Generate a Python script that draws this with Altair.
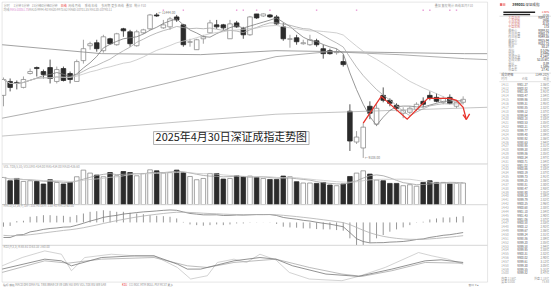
import altair as alt
import pandas as pd

# ---------------- data ----------------
day = list(range(70))
open_px = [10116, 10340, 10324, 10244, 10468, 10564, 10500, 10564, 10340, 10548,
           10468, 10340, 10676, 10916, 10964, 10836, 11028, 10932, 11188, 11140,
           10916, 11124, 11188, 11412, 11204, 11220, 11380, 11252, 10972, 10852,
           11028, 11124, 11252, 11252, 11028, 11284, 11188, 11092, 11428, 11396,
           11412, 11380, 11220, 11020, 11044, 10948, 10932, 10996, 10868, 10836,
           10804, 10660, 9860, 9364, 9268, 9940, 9652, 10116, 10036, 9956,
           9828, 9844, 9892, 10020, 10116, 10084, 10004, 10084, 9940, 10004]
close_px = [10372, 10244, 10308, 10372, 10500, 10548, 10452, 10388, 10532, 10356,
            10372, 10660, 10868, 10948, 10868, 11060, 10948, 11108, 11156, 10948,
            11140, 11172, 11412, 11396, 11252, 11348, 11332, 10932, 10980, 11012,
            11060, 11284, 11220, 11204, 11268, 11220, 11092, 11380, 11364, 11428,
            11380, 11268, 11028, 11028, 10980, 10964, 11012, 10932, 10788, 10788,
            10820, 10612, 9380, 9444, 9604, 9828, 9908, 10036, 9988, 9908,
            9876, 9908, 9972, 9972, 10068, 10020, 10068, 9988, 10004, 10052]
high_px = [10404, 10388, 10356, 10420, 10548, 10580, 10532, 10692, 10580, 10580,
           10500, 10692, 11012, 10980, 11012, 11092, 11044, 11124, 11204, 11172,
           11172, 11188, 11428, 11444, 11332, 11380, 11412, 11268, 11028, 11028,
           11092, 11332, 11332, 11268, 11332, 11316, 11220, 11396, 11428, 11436,
           11428, 11412, 11284, 11092, 11092, 11012, 11092, 11028, 10932, 10868,
           10868, 10772, 9972, 9540, 9668, 10020, 9972, 10244, 10068, 9988,
           9924, 9940, 10004, 10084, 10180, 10148, 10100, 10132, 10036, 10100]
low_px = [9940, 10180, 10212, 10228, 10452, 10420, 10388, 10308, 10308, 10340,
          10308, 10340, 10628, 10852, 10820, 10804, 10932, 10916, 11060, 10900,
          10900, 11108, 11172, 11380, 11188, 11172, 11300, 10900, 10900, 10852,
          10948, 11108, 11188, 11172, 11028, 11204, 11028, 11076, 11348, 11380,
          11364, 11252, 10996, 10884, 10932, 10932, 10916, 10900, 10708, 10772,
          10772, 10580, 9220, 9332, 9108, 9732, 9620, 10004, 9940, 9860,
          9748, 9812, 9860, 9924, 10036, 10004, 9972, 9972, 9908, 9972]
volume = [546, 480, 526, 466, 480, 466, 414, 500, 446, 414,
          446, 560, 694, 634, 594, 560, 646, 580, 666, 646,
          580, 626, 700, 680, 634, 646, 694, 646, 566, 500,
          526, 626, 626, 514, 526, 580, 566, 574, 546, 526,
          506, 506, 574, 560, 460, 434, 434, 426, 446, 394,
          380, 414, 566, 634, 680, 614, 494, 480, 426, 426,
          380, 400, 370, 446, 480, 446, 446, 426, 426, 434]
macd_bar = [-43, -35, 13, 17, 57, 63, 73, 73, 67, 67,
            57, 73, 90, 107, 113, 123, 117, 107, 107, 97,
            90, 83, 73, 67, 63, 57, 40, 5, -20, -27,
            -33, -27, -20, -27, -20, -10, -10, -3, 2, 1,
            2, -15, -43, -50, -53, -60, -60, -67, -70, -70,
            -77, -83, -160, -227, -227, -203, -160, -127, -93, -70,
            -50, -27, -3, 7, 30, 40, 50, 50, 57, 63]
dif = [-151.5, -151.9, -126.3, -122.2, -95.1, -84.2, -70.1, -61.0, -55.6, -47.2,
       -45.1, -28.0, -8.2, 13.7, 30.8, 51.2, 62.8, 71.2, 84.6, 91.7,
       99.5, 106.4, 110.5, 115.9, 121.8, 125.9, 122.4, 105.5, 90.5, 83.6,
       76.5, 76.1, 77.1, 70.2, 71.2, 75.0, 73.7, 76.8, 79.6, 79.2,
       80.0, 69.6, 50.2, 40.5, 32.4, 21.4, 13.9, 2.0, -8.2, -17.0,
       -30.1, -43.5, -102.0, -163.9, -192.3, -205.7, -204.2, -203.6, -198.2, -195.5,
       -191.7, -183.6, -172.0, -166.1, -150.9, -140.9, -129.6, -123.4, -112.8, -101.9]
dea = [-130.0, -134.4, -132.8, -130.7, -123.6, -115.7, -106.6, -97.5, -89.1, -80.7,
       -73.6, -64.5, -53.2, -39.8, -25.7, -10.3, 4.3, 17.7, 31.1, 43.2,
       54.5, 64.9, 74.0, 82.4, 90.3, 97.4, 102.4, 103.0, 100.5, 97.1,
       93.0, 89.6, 87.1, 83.7, 81.2, 80.0, 78.7, 78.3, 78.6, 78.7,
       79.0, 77.1, 71.7, 65.5, 58.9, 51.4, 43.9, 35.5, 26.8, 18.0,
       8.4, -2.0, -22.0, -50.4, -78.8, -104.2, -124.2, -140.1, -151.7, -160.5,
       -166.7, -170.1, -170.5, -169.6, -165.9, -160.9, -154.6, -148.4, -141.3, -133.4]

# long moving averages, read as anchor points (bar index, value)
ma60_i = [-0.2, 12.9, 24.4, 40.9, 48.9, 59.4, 69.2, 72.6]
ma60_v = [9748, 10020, 10308, 10740, 10820, 10772, 10708, 10692]
ma120_i = [-0.2, 14.7, 29.6, 40.9, 69.2, 72.6]
ma120_v = [10932, 10788, 10772, 10836, 10788, 10788]
ma250_i = [-0.2, 40.9, 72.6]
ma250_v = [9460, 9812, 9924]

# KDJ anchor points
k_i = [-0.2, 6.2, 8.7, 10.2, 14.7, 19.7, 22.6, 26.1, 27.6, 29.6, 31.6, 34.6, 38.5, 40.9,
       43.4, 48.4, 53.3, 58.3, 63.3, 65.7, 69]
k_v = [43.3, 76.7, 71.1, 54.4, 82.2, 87.8, 87.8, 60, 43.3, 43.3, 54.4, 71.1, 82.2, 76.7,
       54.4, 26.7, 18.9, 43.3, 71.1, 74.4, 65.6]
d_i = [-0.2, 6.2, 9.7, 14.7, 22.6, 27.6, 30.6, 34.6, 40.9, 45.9, 50.8, 53.8, 58.3, 63.3, 69]
d_v = [32.2, 71.1, 63.3, 76.7, 82.2, 54.4, 48.9, 65.6, 76.7, 48.9, 26.7, 18.9, 37.8, 65.6, 63.3]
j_i = [-0.2, 2.8, 6.2, 8.7, 10.2, 12.2, 16.2, 19.7, 22.6, 26.1, 28.1, 30.6, 32.1, 34.6,
       36.5, 38.5, 40.9, 42.9, 45.9, 50.8, 53.3, 57.3, 62.3, 64.3, 66.7, 69]
j_v = [54.4, 82.2, 104.4, 93.3, 37.8, 82.2, 93.3, 87.8, 87.8, 48.9, 10, 21.1, 65.6, 76.7,
       65.6, 93.3, 74.0, 32.2, 10, 4.4, 18.9, 48.9, 98.9, 87.8, 76.7, 60]

# hand-drawn red path and arrowhead (bar index, price)
red_i = [54.0, 56.7, 60.6, 63.7, 67.0, 68.0, 69.0, 69.48]
red_p = [9668, 10100, 9732, 10068, 10068, 10036, 9924, 9727]
arrow_i0 = [69.48, 69.48]
arrow_p0 = [9727, 9727]
arrow_i1 = [68.97, 69.97]
arrow_p1 = [9807, 9817]

event_days = [24, 27, 35, 36, 38, 40, 47, 53, 63, 64, 67, 68]
title_text = "2025年4月30日深证成指走势图"
high_label = "← 11444.00"
low_label = "← 9108.00"

tabs = ["分时", "1分钟", "5分钟", "15分钟", "30分钟", "60分钟", "日线", "周线", "月线",
        "季线", "年线", "多周期", "更多", "画线", "叠加", "统计", "F10"]

quote_labels = ["大盘涨跌", "上涨家数", "下跌家数", "平盘家数", "最新价", "今日开盘", "昨日收盘",
                "最高价", "最低价", "涨跌", "涨幅", "振幅", "总成交量", "总成交额", "量比",
                "换手率", "市盈率"]
quote_values = ["9899.82", "1956", "3115", "173", "9899.82", "9860.17", "9849.55",
                "9925.94", "9832.73", "50.27", "0.51%", "0.94%", "4.34亿", "5218.6亿",
                "0.89", "1.56%", "27.41"]
tick_times = ["14:11", "14:12", "14:13", "14:14", "14:15", "14:16", "14:17", "14:18", "14:19", "14:20",
              "14:21", "14:22", "14:23", "14:24", "14:25", "14:26", "14:27", "14:28", "14:29", "14:30",
              "14:31", "14:32", "14:33", "14:34", "14:35", "14:36", "14:37", "14:38", "14:39", "14:40",
              "14:41", "14:42", "14:43", "14:44", "14:45", "14:46", "14:47", "14:48", "14:49", "14:50",
              "14:51", "14:52", "14:53", "14:54", "14:55", "14:56", "14:57", "14:58", "14:59", "15:00"]
tick_prices = ["9901.27", "9900.82", "9901.05", "9900.47", "9899.96", "9899.31", "9898.85", "9899.12",
               "9899.64", "9900.18", "9900.53", "9900.21", "9899.77", "9899.40", "9898.92", "9898.63",
               "9898.95", "9899.38", "9899.86", "9900.34", "9900.71", "9901.02", "9900.66", "9900.19",
               "9899.73", "9899.25", "9898.81", "9898.47", "9898.90", "9899.33", "9899.79", "9900.25",
               "9900.68", "9901.10", "9901.43", "9901.06", "9900.58", "9900.12", "9899.67", "9899.24",
               "9898.86", "9899.20", "9899.58", "9899.95", "9900.31", "9900.02", "9899.61", "9899.30",
               "9899.55", "9899.82"]
tick_vols = ["2.86亿", "2.79亿", "2.91亿", "2.84亿", "2.88亿", "2.95亿", "2.82亿", "2.87亿", "2.90亿", "2.83亿",
             "2.85亿", "2.92亿", "2.80亿", "2.89亿", "2.86亿", "2.94亿", "2.81亿", "2.88亿", "2.85亿", "2.97亿",
             "2.84亿", "2.90亿", "2.83亿", "2.87亿", "2.91亿", "2.86亿", "2.80亿", "2.93亿", "2.85亿", "2.89亿",
             "2.82亿", "2.96亿", "2.88亿", "2.84亿", "2.90亿", "2.87亿", "2.83亿", "2.92亿", "2.86亿", "2.81亿",
             "2.89亿", "2.85亿", "2.94亿", "2.88亿", "2.82亿", "2.90亿", "3.12亿", "3.05亿", "5.31亿", "8.47亿"]

# ---------------- layout / style ----------------
W = 489
AX = 11
H_MAIN, H_VOL, H_MACD, H_KDJ, H_BAR = 163, 41, 41, 37, 7
RP_W = 52
X_DOMAIN = [-0.2236, 72.65]
PRICE_DOMAIN = [9012, 11620]
VOL_DOMAIN = [0, 820]
MACD_DOMAIN = [-230, 180]
KDJ_DOMAIN = [0, 123.3]
HALF = 0.345
FONT = "Noto Sans CJK SC"
UP_FILL, DOWN_FILL = "#ffffff", "#2b2b2b"
UP_LINE, DOWN_LINE = "#8c8c8c", "#2b2b2b"
UP_TEST = "datum.close >= datum.open"

cdf = pd.DataFrame({"i": day, "open": open_px, "close": close_px, "high": high_px,
                    "low": low_px, "vol": volume, "bar": macd_bar, "dif": dif, "dea": dea})

xs = alt.Scale(domain=X_DOMAIN, nice=False, zero=False)
X = alt.X("i:Q", scale=xs, axis=None)


def yaxis(values):
    return alt.Axis(orient="right", values=values, format="d", labelFontSize=3,
                    labelColor="#8a8a8a", labelFont="DejaVu Sans", labelPadding=0.5,
                    tickSize=1, tickColor="#cccccc", tickWidth=0.5, domainColor="#c8c8c8",
                    domainWidth=0.6, grid=True, gridColor="#f1f1f1", gridWidth=0.6,
                    title=None, minExtent=AX, maxExtent=AX)


def note(txt, x, y, color="#9a9a9a", size=3.2, weight="normal", align="left"):
    return alt.Chart(pd.DataFrame({"t": [txt]})).mark_text(
        align=align, baseline="middle", fontSize=size, font=FONT, color=color,
        fontWeight=weight).encode(x=alt.value(x), y=alt.value(y), text="t:N")


def view(stroke="#d4d4d4"):
    return alt.ViewBackground(stroke=stroke, strokeWidth=0.6)


# ---------------- main (price) pane ----------------
ps = alt.Scale(domain=PRICE_DOMAIN, nice=False, zero=False)
price_ticks = [9120, 9280, 9440, 9600, 9760, 9920, 10080, 10240, 10400, 10560,
               10720, 10880, 11040, 11200, 11360, 11520]

wick = alt.Chart(cdf).mark_rule(strokeWidth=0.8, clip=True).encode(
    x=X, y=alt.Y("low:Q", scale=ps, axis=yaxis(price_ticks)), y2="high:Q",
    color=alt.condition(UP_TEST, alt.value(UP_LINE), alt.value(DOWN_LINE)))

body = alt.Chart(cdf).transform_calculate(
    x0=f"datum.i - {HALF}", x1=f"datum.i + {HALF}"
).mark_rect(strokeWidth=0.8, clip=True).encode(
    x=alt.X("x0:Q", scale=xs, axis=None), x2="x1:Q",
    y=alt.Y("open:Q", scale=ps, axis=None), y2="close:Q",
    fill=alt.condition(UP_TEST, alt.value(UP_FILL), alt.value(DOWN_FILL)),
    stroke=alt.condition(UP_TEST, alt.value(UP_LINE), alt.value(DOWN_LINE)))


def ma_line(n, color):
    return alt.Chart(cdf).transform_window(
        m="mean(close)", frame=[-(n - 1), 0], sort=[alt.SortField("i")]
    ).mark_line(color=color, strokeWidth=0.8, clip=True).encode(
        x=X, y=alt.Y("m:Q", scale=ps, axis=None))


def anchor_line(ii, vv, color, scale):
    return alt.Chart(pd.DataFrame({"i": ii, "v": vv})).mark_line(
        color=color, strokeWidth=0.8, clip=True).encode(
        x=X, y=alt.Y("v:Q", scale=scale, axis=None))


long_lines = [anchor_line(ma60_i, ma60_v, "#9a9a9a", ps),
              anchor_line(ma120_i, ma120_v, "#8a8a8a", ps),
              anchor_line(ma250_i, ma250_v, "#b5b5b5", ps)]

events = alt.Chart(pd.DataFrame({"i": event_days})).mark_point(
    shape="square", size=2, filled=True, color="#e58fd0", opacity=0.9).encode(
    x=X, y=alt.value(8.2))

hl_df = pd.DataFrame({"i": [23, 54], "p": [high_px[23], low_px[54]], "t": [high_label, low_label]})
hl = alt.Chart(hl_df).mark_text(align="left", baseline="middle", dx=1.5, fontSize=3.2,
                                font=FONT, color="#777").encode(
    x=X, y=alt.Y("p:Q", scale=ps, axis=None), text="t:N")

box_df = pd.DataFrame({"x0": [22.53], "x1": [45.87], "y0": [9532], "y1": [9324],
                       "xc": [34.2], "yc": [9428], "t": [title_text]})
box = alt.Chart(box_df).mark_rect(fill="white", stroke="#9a9a9a", strokeWidth=0.8).encode(
    x=alt.X("x0:Q", scale=xs, axis=None), x2="x1:Q",
    y=alt.Y("y0:Q", scale=ps, axis=None), y2="y1:Q")
box_text = alt.Chart(box_df).mark_text(align="center", baseline="middle", fontSize=11,
                                       font=FONT, color="#222").encode(
    x=alt.X("xc:Q", scale=xs, axis=None), y=alt.Y("yc:Q", scale=ps, axis=None), text="t:N")

red_df = pd.DataFrame({"k": list(range(len(red_i))), "i": red_i, "p": red_p})
red_line = alt.Chart(red_df).mark_line(color="#e8322a", strokeWidth=1.3, clip=True).encode(
    x=X, y=alt.Y("p:Q", scale=ps, axis=None), order="k:Q")
arrow_df = pd.DataFrame({"i": arrow_i0, "p": arrow_p0, "i2": arrow_i1, "p2": arrow_p1})
arrow = alt.Chart(arrow_df).mark_rule(color="#e8322a", strokeWidth=1.3).encode(
    x=X, x2="i2:Q", y=alt.Y("p:Q", scale=ps, axis=None), y2="p2:Q")

tab_x = [1.7, 11.7, 20, 30, 38.3, 46.7, 59.3, 66.7, 73.3, 83.3, 90, 100, 110, 116.7, 125, 133.3, 140]
tab_layers = [note(t, x, 3.6, color=("#e8322a" if t == "日线" else "#9a9a9a"), size=3)
              for t, x in zip(tabs, tab_x)]
main_notes = tab_layers + [
    note("均线", 1.5, 7.6, color="#999", size=3),
    note("MA5:10051.75", 8, 7.6, color="#d98ccf", size=3),
    note("MA10:9994.40  MA20:9973.62  MA60:10701.35  MA120:10790.11", 27, 7.6, color="#999", size=3),
    note("叠加  复权  统计  画线  区间  F10", 436, 3.6, color="#9a9a9a", size=3),
]

main = alt.layer(wick, body, *long_lines, ma_line(5, "#7d7d7d"), ma_line(10, "#a8a8a8"),
                 ma_line(20, "#c4c4c4"), events, hl, box, box_text, red_line, arrow,
                 *main_notes).properties(width=W, height=H_MAIN, view=view())

# ---------------- volume pane ----------------
vs = alt.Scale(domain=VOL_DOMAIN, nice=False, zero=False)
vol_bars = alt.Chart(cdf).transform_calculate(
    x0=f"datum.i - {HALF}", x1=f"datum.i + {HALF}"
).mark_rect(strokeWidth=0.8, clip=True).encode(
    x=alt.X("x0:Q", scale=xs, axis=None), x2="x1:Q",
    y=alt.Y("vol:Q", scale=vs, axis=yaxis([160, 320, 480, 640])), y2=alt.datum(0),
    fill=alt.condition(UP_TEST, alt.value(UP_FILL), alt.value(DOWN_FILL)),
    stroke=alt.condition(UP_TEST, alt.value(UP_LINE), alt.value(DOWN_LINE)))


def vol_ma(n, color):
    return alt.Chart(cdf).transform_window(
        m="mean(vol)", frame=[-(n - 1), 0], sort=[alt.SortField("i")]
    ).mark_line(color=color, strokeWidth=0.8, clip=True).encode(
        x=X, y=alt.Y("m:Q", scale=vs, axis=None))


vol = alt.layer(vol_bars, vol_ma(5, "#a0a0a0"), vol_ma(10, "#c8c8c8"),
                note("VOL-TDX(5,10)  VOLUME:434.00  MA5:434.00  MA10:426.60", 1.5, 2.7, size=3)
                ).properties(width=W, height=H_VOL, view=view())

# ---------------- MACD pane ----------------
ms = alt.Scale(domain=MACD_DOMAIN, nice=False, zero=False)
macd_rules = alt.Chart(cdf).mark_rule(color="#8a8a8a", strokeWidth=0.9, clip=True).encode(
    x=X, y=alt.Y("bar:Q", scale=ms, axis=yaxis([-160, -80, 0, 80, 160])), y2=alt.datum(0))
dif_line = alt.Chart(cdf).mark_line(color="#777777", strokeWidth=0.8, clip=True).encode(
    x=X, y=alt.Y("dif:Q", scale=ms, axis=None))
dea_line = alt.Chart(cdf).mark_line(color="#b0b0b0", strokeWidth=0.8, clip=True).encode(
    x=X, y=alt.Y("dea:Q", scale=ms, axis=None))
macd = alt.layer(macd_rules, dif_line, dea_line,
                 note("MACD(12,26,9)  DIF:-101.90  DEA:-133.40  MACD:63.00", 1.5, 1.9, size=3)
                 ).properties(width=W, height=H_MACD, view=view())

# ---------------- KDJ pane ----------------
ks = alt.Scale(domain=KDJ_DOMAIN, nice=False, zero=False)
kdj_axis = alt.Chart(pd.DataFrame({"i": [0], "v": [50]})).mark_point(opacity=0).encode(
    x=X, y=alt.Y("v:Q", scale=ks, axis=yaxis([20, 50, 80, 100])))
kdj = alt.layer(kdj_axis,
                anchor_line(j_i, j_v, "#c8c8c8", ks),
                anchor_line(d_i, d_v, "#aaaaaa", ks),
                anchor_line(k_i, k_v, "#777777", ks),
                note("KDJ(9,3,3)  K:65.61  D:63.33  J:60.00", 1.5, 2.2, size=3)
                ).properties(width=W, height=H_KDJ, view=view())

# ---------------- bottom tab bar ----------------
bottom = alt.layer(
    note("指标  模板  MACD  DMI  DMA  FSL  TRIX  BRAR  CR  VR  OBV  ASI  EMV  VOL-TDX  RSI  WR  SAR",
         1, 3.0, size=2.8, color="#8a8a8a"),
    note("KDJ", 121, 3.0, size=2.8, color="#e8322a"),
    note("CCI  ROC  MTM  BOLL  PSY  MCST  更多", 128, 3.0, size=2.8, color="#8a8a8a"),
    note("窗口  ▾  ▴", 470, 3.0, size=2.8, color="#8a8a8a"),
).properties(width=W + AX, height=H_BAR, view=view(None))

left = alt.vconcat(main, vol, macd, kdj, bottom, spacing=0, bounds="flush")

# ---------------- right quote panel ----------------
lrows, rrows = [], []
for k, (lab, val) in enumerate(zip(quote_labels, quote_values)):
    y = 15.6 + 3.33 * k
    lrows.append((9, y, lab, "#d98c8c" if k < 4 else "#9a9a9a", 3.0))
    rrows.append((50, y, val, "#333333", 3.0))
lrows.append((2, 73.8, "成交明细", "#666666", 3.0))
rrows.append((50, 73.8, "1349.20万", "#666666", 3.0))
lrows.append((2, 77.6, "时间", "#999999", 2.9))
rrows.append((28.5, 77.6, "价格", "#999999", 2.9))
rrows.append((50, 77.6, "现量", "#999999", 2.9))
for k, (t, p, v) in enumerate(zip(tick_times, tick_prices, tick_vols)):
    y = 83.3 + 3.88 * k
    lrows.append((2, y, t, "#9a9a9a", 2.9))
    rrows.append((28.5, y, p, "#555555", 2.9))
    rrows.append((50, y, v, "#7a7a7a", 2.9))
lrows.append((2, 278.5, "内盘 2.16亿", "#999999", 2.9))
rrows.append((50, 278.5, "外盘 2.18亿", "#999999", 2.9))
lrows.append((2, 282.5, "委差 0.000", "#999999", 2.9))
rrows.append((50, 282.5, "75.98", "#999999", 2.9))
rrows.append((50, 9.9, "1.38%", "#e8322a", 2.6))
rrows.append((50, 13.0, "13.52", "#555555", 2.6))

cols = ["x", "y", "t", "c", "s"]
ldf = pd.DataFrame(lrows, columns=cols)
rdf = pd.DataFrame(rrows, columns=cols)


def text_layer(df, align):
    return alt.Chart(df).mark_text(align=align, baseline="middle", font=FONT).encode(
        x=alt.X("x:Q", scale=None, axis=None), y=alt.Y("y:Q", scale=None, axis=None),
        text="t:N", color=alt.Color("c:N", scale=None), size=alt.Size("s:Q", scale=None))


rect_df = pd.DataFrame({"x": [0.5, 3.5, 4, 4], "x2": [3, 6, 36, 31],
                        "y": [1.2, 1.2, 9.6, 11.9], "y2": [3.9, 3.9, 11.0, 13.3],
                        "c": ["#e86a6a", "#f2a0a0", "#222222", "#222222"]})
rp_rects = alt.Chart(rect_df).mark_rect().encode(
    x=alt.X("x:Q", scale=None, axis=None), x2="x2:Q",
    y=alt.Y("y:Q", scale=None, axis=None), y2="y2:Q", color=alt.Color("c:N", scale=None))
sep_df = pd.DataFrame({"x": [0, 0, 0], "x2": [RP_W, RP_W, RP_W], "y": [14.3, 71.6, 80.2]})
rp_seps = alt.Chart(sep_df).mark_rule(color="#cfcfcf", strokeWidth=0.6).encode(
    x=alt.X("x:Q", scale=None, axis=None), x2="x2:Q", y=alt.Y("y:Q", scale=None, axis=None))

right = alt.layer(rp_rects, rp_seps, text_layer(ldf, "left"), text_layer(rdf, "right"),
                  note("399001", 13, 2.6, color="#333", size=3.6, weight="bold"),
                  note("深证成指", 26, 2.6, color="#333", size=3.6),
                  ).properties(width=RP_W, height=289, view=view(None))

chart = alt.hconcat(left, right, spacing=0).properties(
    padding=0, background="white").configure_concat(spacing=0)

chart.save("out.html", embed_options={"renderer": "svg", "actions": False})
